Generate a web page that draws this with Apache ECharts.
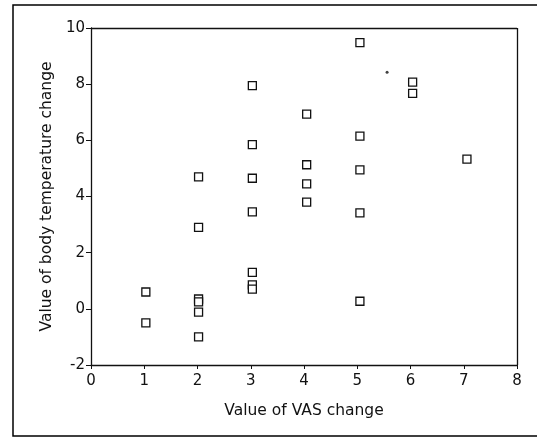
<!DOCTYPE html>
<html lang="en">
<head>
    <meta charset="UTF-8">
    <title>VAS vs body temperature</title>
    <script src="https://cdn.jsdelivr.net/npm/echarts@6/dist/echarts.min.js"></script>
    <style>
        html, body { margin: 0; padding: 0; background: #fff; }
    </style>
</head>
<body>
    <div id="main" style="width: 537px; height: 438px;"></div>
    <script>
        // values (x = VAS change, y = body temperature change)
        const vasChange = [1.03, 1.03, 2.02, 2.02, 2.02, 2.02, 2.02, 2.02,
            3.03, 3.03, 3.03, 3.03, 3.03, 3.03, 3.03,
            4.05, 4.05, 4.05, 4.05,
            5.05, 5.05, 5.05, 5.05, 5.05,
            6.04, 6.04, 7.06];
        const tempChange = [0.6, -0.5, 4.7, 2.9, 0.35, 0.25, -0.12, -1.0,
            7.95, 5.85, 4.65, 3.45, 1.3, 0.85, 0.7,
            6.93, 5.13, 4.45, 3.8,
            9.48, 6.15, 4.95, 3.42, 0.27,
            8.07, 7.67, 5.33];
        // stray speck in the scan
        const speck = [[5.56, 8.42]];

        const xTicks = [0, 1, 2, 3, 4, 5, 6, 7, 8];
        const yTicks = [-2, 0, 2, 4, 6, 8, 10];

        const font = 'DejaVu Sans';
        const points = vasChange.map((x, i) => [x, tempChange[i]]);

        const option = {
            animation: false,
            backgroundColor: '#fff',
            grid: { left: 91, right: 20, top: 28, bottom: 73 },
            graphic: [{
                type: 'rect',
                shape: { x: 13, y: 5, width: 530, height: 431 },
                style: { fill: 'none', stroke: '#000', lineWidth: 1.5 },
                silent: true
            }],
            xAxis: {
                type: 'value',
                min: xTicks[0],
                max: xTicks[xTicks.length - 1],
                interval: 1,
                name: 'Value of VAS change',
                nameLocation: 'middle',
                nameGap: 38,
                nameTextStyle: { fontFamily: font, fontSize: 15.5, color: '#111' },
                axisLine: { show: true, onZero: false, lineStyle: { color: '#111', width: 1.3 } },
                axisTick: { show: true, length: 4, lineStyle: { color: '#111' } },
                axisLabel: { fontFamily: font, fontSize: 15, color: '#111', margin: 9 },
                splitLine: { show: false }
            },
            yAxis: {
                type: 'value',
                min: yTicks[0],
                max: yTicks[yTicks.length - 1],
                interval: 2,
                name: 'Value of body temperature change',
                nameLocation: 'middle',
                nameGap: 36,
                nameTextStyle: { fontFamily: font, fontSize: 15.5, color: '#111' },
                axisLine: { show: true, onZero: false, lineStyle: { color: '#111', width: 1.3 } },
                axisTick: { show: true, length: 5, lineStyle: { color: '#111' } },
                axisLabel: { fontFamily: font, fontSize: 15, color: '#111', margin: 6 },
                splitLine: { show: false }
            },
            series: [
                {
                    type: 'scatter',
                    data: points,
                    symbol: 'rect',
                    symbolSize: 8,
                    itemStyle: { color: '#fff', borderColor: '#111', borderWidth: 1.3, opacity: 1 },
                    // closes the box on the top and right edges
                    markLine: {
                        silent: true,
                        symbol: 'none',
                        label: { show: false },
                        lineStyle: { color: '#111', width: 1.3, type: 'solid' },
                        data: [{ yAxis: yTicks[yTicks.length - 1] }, { xAxis: xTicks[xTicks.length - 1] }]
                    }
                },
                {
                    type: 'scatter',
                    data: speck,
                    symbol: 'circle',
                    symbolSize: 3,
                    itemStyle: { color: '#111' }
                }
            ]
        };

        const myChart = echarts.init(document.getElementById('main'));
        myChart.setOption(option);
    </script>
</body>
</html>
